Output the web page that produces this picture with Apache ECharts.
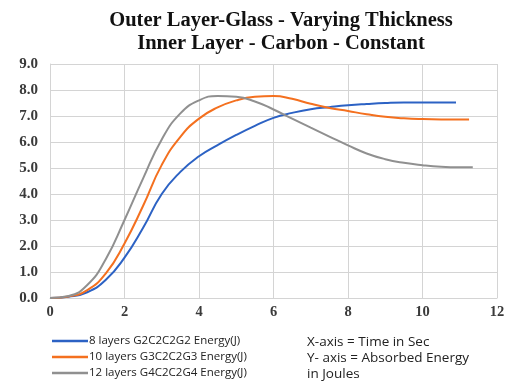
<!DOCTYPE html>
<html><head><meta charset="utf-8">
<script src="https://cdn.jsdelivr.net/npm/echarts@6/dist/echarts.min.js"></script>
<style>html,body{margin:0;padding:0;background:#fff}#c{width:512px;height:384px}</style>
</head><body><div id="c"></div>
<script>
const seriesNames = ['8 layers G2C2C2G2 Energy(J)', '10 layers G3C2C2G3 Energy(J)', '12 layers G4C2C2G4 Energy(J)'];
const blueX = [0,0.5,1,1.5,2,2.5,3,3.5,4,4.5,5,5.5,6,6.5,7,7.5,8,8.5,9,9.5,10,10.5,10.9];
const blueY = [0,0.05,0.22,0.7,1.55,2.7,4.0,4.85,5.45,5.88,6.27,6.62,6.93,7.12,7.26,7.34,7.41,7.46,7.5,7.52,7.52,7.52,7.52];
const orangeX = [0,0.5,1,1.5,2,2.5,3,3.5,4,4.5,5,5.5,6,6.5,7,7.5,8,8.5,9,9.5,10,10.5,11,11.25];
const orangeY = [0,0.06,0.3,0.95,2.1,3.55,5.12,6.2,6.9,7.33,7.6,7.74,7.77,7.66,7.47,7.31,7.19,7.07,6.97,6.91,6.88,6.87,6.87,6.87];
const grayX = [0,0.5,1,1.5,2,2.5,3,3.5,4,4.5,5,5.5,6,6.5,7,7.5,8,8.5,9,9.5,10,10.5,11,11.35];
const grayY = [0,0.08,0.5,1.5,3.0,4.6,6.1,7.1,7.6,7.77,7.74,7.56,7.25,6.9,6.55,6.21,5.87,5.56,5.34,5.2,5.11,5.05,5.03,5.03];
const xTicks = [0,2,4,6,8,10,12];
const yTicks = [0,1,2,3,4,5,6,7,8,9];
const titleLines = ['Outer Layer-Glass - Varying Thickness', 'Inner Layer - Carbon - Constant'];
const noteLines = ['X-axis = Time in Sec', 'Y- axis = Absorbed Energy', 'in Joules'];

const zip = (xs, ys) => xs.map((x, i) => [x, ys[i]]);
const colors = ['#2c62c4', '#f4701f', '#909090'];
const chart = echarts.init(document.getElementById('c'), null, {renderer: 'canvas'});
const lineSeries = (name, xs, ys) => ({
  name, type: 'line', data: zip(xs, ys), smooth: 0.5,
  symbol: 'none', showSymbol: false, lineStyle: {width: 2}
});
chart.setOption({
  animation: false,
  backgroundColor: '#fff',
  color: colors,
  title: {
    text: titleLines.join('\n'),
    left: 276, top: 4, textAlign: 'center',
    textStyle: {fontFamily: 'Liberation Serif', fontWeight: 'bold', fontSize: 20.5, lineHeight: 23, color: '#111'}
  },
  grid: {left: 50, right: 15, top: 64, bottom: 86},
  xAxis: {
    type: 'value', min: xTicks[0], max: xTicks[xTicks.length - 1], interval: 2,
    axisLine: {show: true, lineStyle: {color: '#d4d4d4'}},
    axisTick: {show: false},
    splitLine: {show: true, lineStyle: {color: '#d4d4d4', width: 1}},
    axisLabel: {fontFamily: 'Liberation Serif', fontWeight: 'bold', fontSize: 14.5, color: '#3a3a3a', margin: 7}
  },
  yAxis: {
    type: 'value', min: yTicks[0], max: yTicks[yTicks.length - 1], interval: 1,
    axisLine: {show: true, lineStyle: {color: '#d4d4d4'}},
    axisTick: {show: false},
    splitLine: {show: true, lineStyle: {color: '#d4d4d4', width: 1}},
    axisLabel: {fontFamily: 'Liberation Serif', fontWeight: 'bold', fontSize: 15, color: '#3a3a3a', margin: 12,
      formatter: v => v.toFixed(1)}
  },
  legend: {
    orient: 'vertical', left: 47, top: 328, height: 60,
    icon: 'rect', itemWidth: 36, itemHeight: 2.5, itemGap: 0,
    textStyle: {fontFamily: 'Open Sans', fontSize: 11.5, lineHeight: 16, color: '#222', padding: [0,0,0,-4]},
    data: seriesNames
  },
  graphic: noteLines.map((t, i) => ({
    type: 'text', left: 307, top: 335 + i * 16,
    style: {text: t, fontFamily: 'Open Sans', fontSize: 13.5, fill: '#222'}
  })),
  series: [
    lineSeries(seriesNames[0], blueX, blueY),
    lineSeries(seriesNames[1], orangeX, orangeY),
    lineSeries(seriesNames[2], grayX, grayY)
  ]
});
</script></body></html>
